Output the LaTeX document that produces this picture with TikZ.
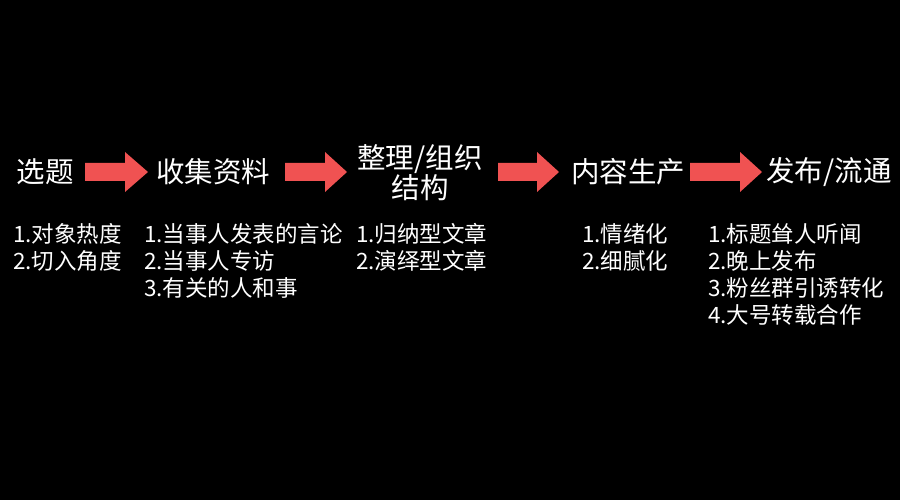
\documentclass[tikz,border=0pt]{standalone}
\usepackage{fontspec}
\setmainfont{Noto Sans CJK SC}
\definecolor{arrowred}{RGB}{240,82,82}
\tikzset{
  head/.style={text=white, font=\fontsize{28.5}{33}\selectfont, inner sep=0pt, align=center},
  item/.style={text=white, font=\fontsize{22.5}{27}\selectfont, inner sep=0pt, anchor=north west, align=left},
  bigarrow/.style={fill=arrowred, draw=none}
}
\newcommand{\flowarrow}[3]{% x start, x head, x tip (y center 172)
  \fill[arrowred] (#1,163) -- (#2,163) -- (#2,152) -- (#3,172) -- (#2,192) -- (#2,181) -- (#1,181) -- cycle;}
\begin{document}
\begin{tikzpicture}[x=1pt,y=-1pt]
\fill[black] (0,0) rectangle (900,500);
\useasboundingbox (0,0) rectangle (900,500);
\node[head] (h1) at (45,172) {选题};
\node[head] (h2) at (213,172) {收集资料};
\node[head] (h3) at (420,173) {整理/组织\\[-3pt]结构};
\node[head] (h4) at (628,172) {内容生产};
\node[head] (h5) at (829,172) {发布/流通};
\flowarrow{85}{125}{148}
\flowarrow{285}{325}{347}
\flowarrow{498}{537}{559}
\flowarrow{690}{740}{762}
\node[item] (l1) at (13,223) {1.对象热度\\2.切入角度};
\node[item] (l2) at (144,223) {1.当事人发表的言论\\2.当事人专访\\3.有关的人和事};
\node[item] (l3) at (356,223) {1.归纳型文章\\2.演绎型文章};
\node[item] (l4) at (582,223) {1.情绪化\\2.细腻化};
\node[item] (l5) at (708,223) {1.标题耸人听闻\\2.晚上发布\\3.粉丝群引诱转化\\4.大号转载合作};
\end{tikzpicture}
\end{document}
